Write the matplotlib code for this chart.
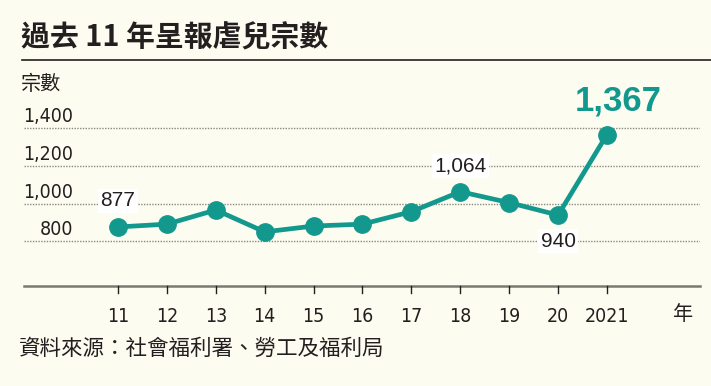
import matplotlib
matplotlib.use("Agg")
import matplotlib.pyplot as plt
from matplotlib.lines import Line2D
from matplotlib import font_manager as fm

years = ["11", "12", "13", "14", "15", "16", "17", "18", "19", "20", "2021"]
cases = [877, 892, 967, 851, 882, 892, 958, 1064, 1006, 940, 1367]
yticks = [800, 1000, 1200, 1400]
ytick_labels = ["800", "1,000", "1,200", "1,400"]
labels = {0: "877", 7: "1,064", 9: "940"}
highlight = "1,367"

BG = "#fdfcf0"
TEAL = "#13988e"
DARK = "#231f20"
GRAY = "#7a7a72"

W, H = 711, 386
fig = plt.figure(figsize=(W / 100, H / 100), dpi=100, facecolor=BG)

CJK = ["Noto Sans CJK TC", "DejaVu Sans"]
NUM = ["Liberation Sans", "DejaVu Sans"]

have_narrow = False
try:
    p = fm.findfont(fm.FontProperties(family="Liberation Sans Narrow"), fallback_to_default=False)
    have_narrow = "Narrow" in p
except Exception:
    have_narrow = False
if have_narrow:
    NARROW = ["Liberation Sans Narrow", "DejaVu Sans"]
    nsize = 16.5
    nstretch = "normal"
else:
    NARROW = ["DejaVu Sans"]
    nsize = 14
    nstretch = "condensed"

# axes region in pixels
L, R, T, B = 24, 700, 100, 286
ax = fig.add_axes([L / W, 1 - B / H, (R - L) / W, (B - T) / H])
ax.set_facecolor(BG)
ax.patch.set_alpha(0)

x0, dx = 118, 48.9
ax.set_xlim((L - x0) / dx, (R - x0) / dx)
ppu = 5.3  # units per pixel
y800 = 241.5
ax.set_ylim(800 - (B - y800) * ppu, 800 + (y800 - T) * ppu)

for s in ax.spines.values():
    s.set_visible(False)
ax.set_xticks([])
ax.set_yticks([])

# gridlines
for v in yticks:
    ax.axhline(v, color="#8a8a80", lw=1.0, ls=(0, (1, 1)), zorder=1)

# y tick labels (above gridlines)
for v, t in zip(yticks, ytick_labels):
    ax.annotate(t, xy=(0, v), xycoords=("axes fraction", "data"),
                xytext=((73 - L) * 0.72, 1.5), textcoords="offset points",
                ha="right", va="bottom", fontsize=nsize, color=DARK,
                family=NARROW, fontstretch=nstretch)

xs = list(range(len(years)))
ax.plot(xs, cases, color=TEAL, lw=3.4, marker="o", ms=12.5,
        markerfacecolor=TEAL, markeredgecolor=TEAL, zorder=3,
        solid_joinstyle="round")

box = dict(boxstyle="square,pad=0.12", fc="#ffffff", ec="none")
for i, t in labels.items():
    if i == 9:
        ax.annotate(t, xy=(i, cases[i]), xytext=(0, -12), textcoords="offset points",
                    ha="center", va="top", fontsize=15, color=DARK,
                    family=NUM, bbox=box, zorder=4)
    else:
        ax.annotate(t, xy=(i, cases[i]), xytext=(0, 12), textcoords="offset points",
                    ha="center", va="bottom", fontsize=15, color=DARK,
                    family=NUM, bbox=box, zorder=4)
ax.annotate(highlight, xy=(10, cases[10]), xytext=(8, 12), textcoords="offset points",
            ha="center", va="bottom", fontsize=25, color=TEAL,
            family=NUM, fontweight="bold", zorder=4)

# bottom axis line with ticks
fig.add_artist(Line2D([L / W, R / W], [1 - B / H, 1 - B / H], color=GRAY, lw=1.8))
for i, yl in enumerate(years):
    xp = x0 + i * dx
    fig.add_artist(Line2D([xp / W, xp / W], [1 - B / H, 1 - (B + 7) / H], color=DARK, lw=1.0))
    fig.text(xp / W, 1 - 316 / H, yl, ha="center", va="center", fontsize=nsize,
             color=DARK, family=NARROW, fontstretch=nstretch)
fig.text(683 / W, 1 - 315 / H, "年", ha="center", va="center", fontsize=14.5,
         color=DARK, family=CJK)

# title
fig.text(21 / W, 1 - 38 / H, "過去 11 年呈報虐兒宗數", ha="left", va="center",
         fontsize=20.8, fontweight="bold", color=DARK, family=CJK)
fig.add_artist(Line2D([22 / W, 1.0], [1 - 60 / H, 1 - 60 / H], color=DARK, lw=1.2))

fig.text(21 / W, 1 - 84 / H, "宗數", ha="left", va="center", fontsize=14.5,
         color=DARK, family=CJK)
fig.text(19 / W, 1 - 349 / H, "資料來源：社會福利署、勞工及福利局", ha="left", va="center",
         fontsize=15.5, color=DARK, family=CJK)

fig.savefig("out.png", dpi=100, facecolor=BG)
